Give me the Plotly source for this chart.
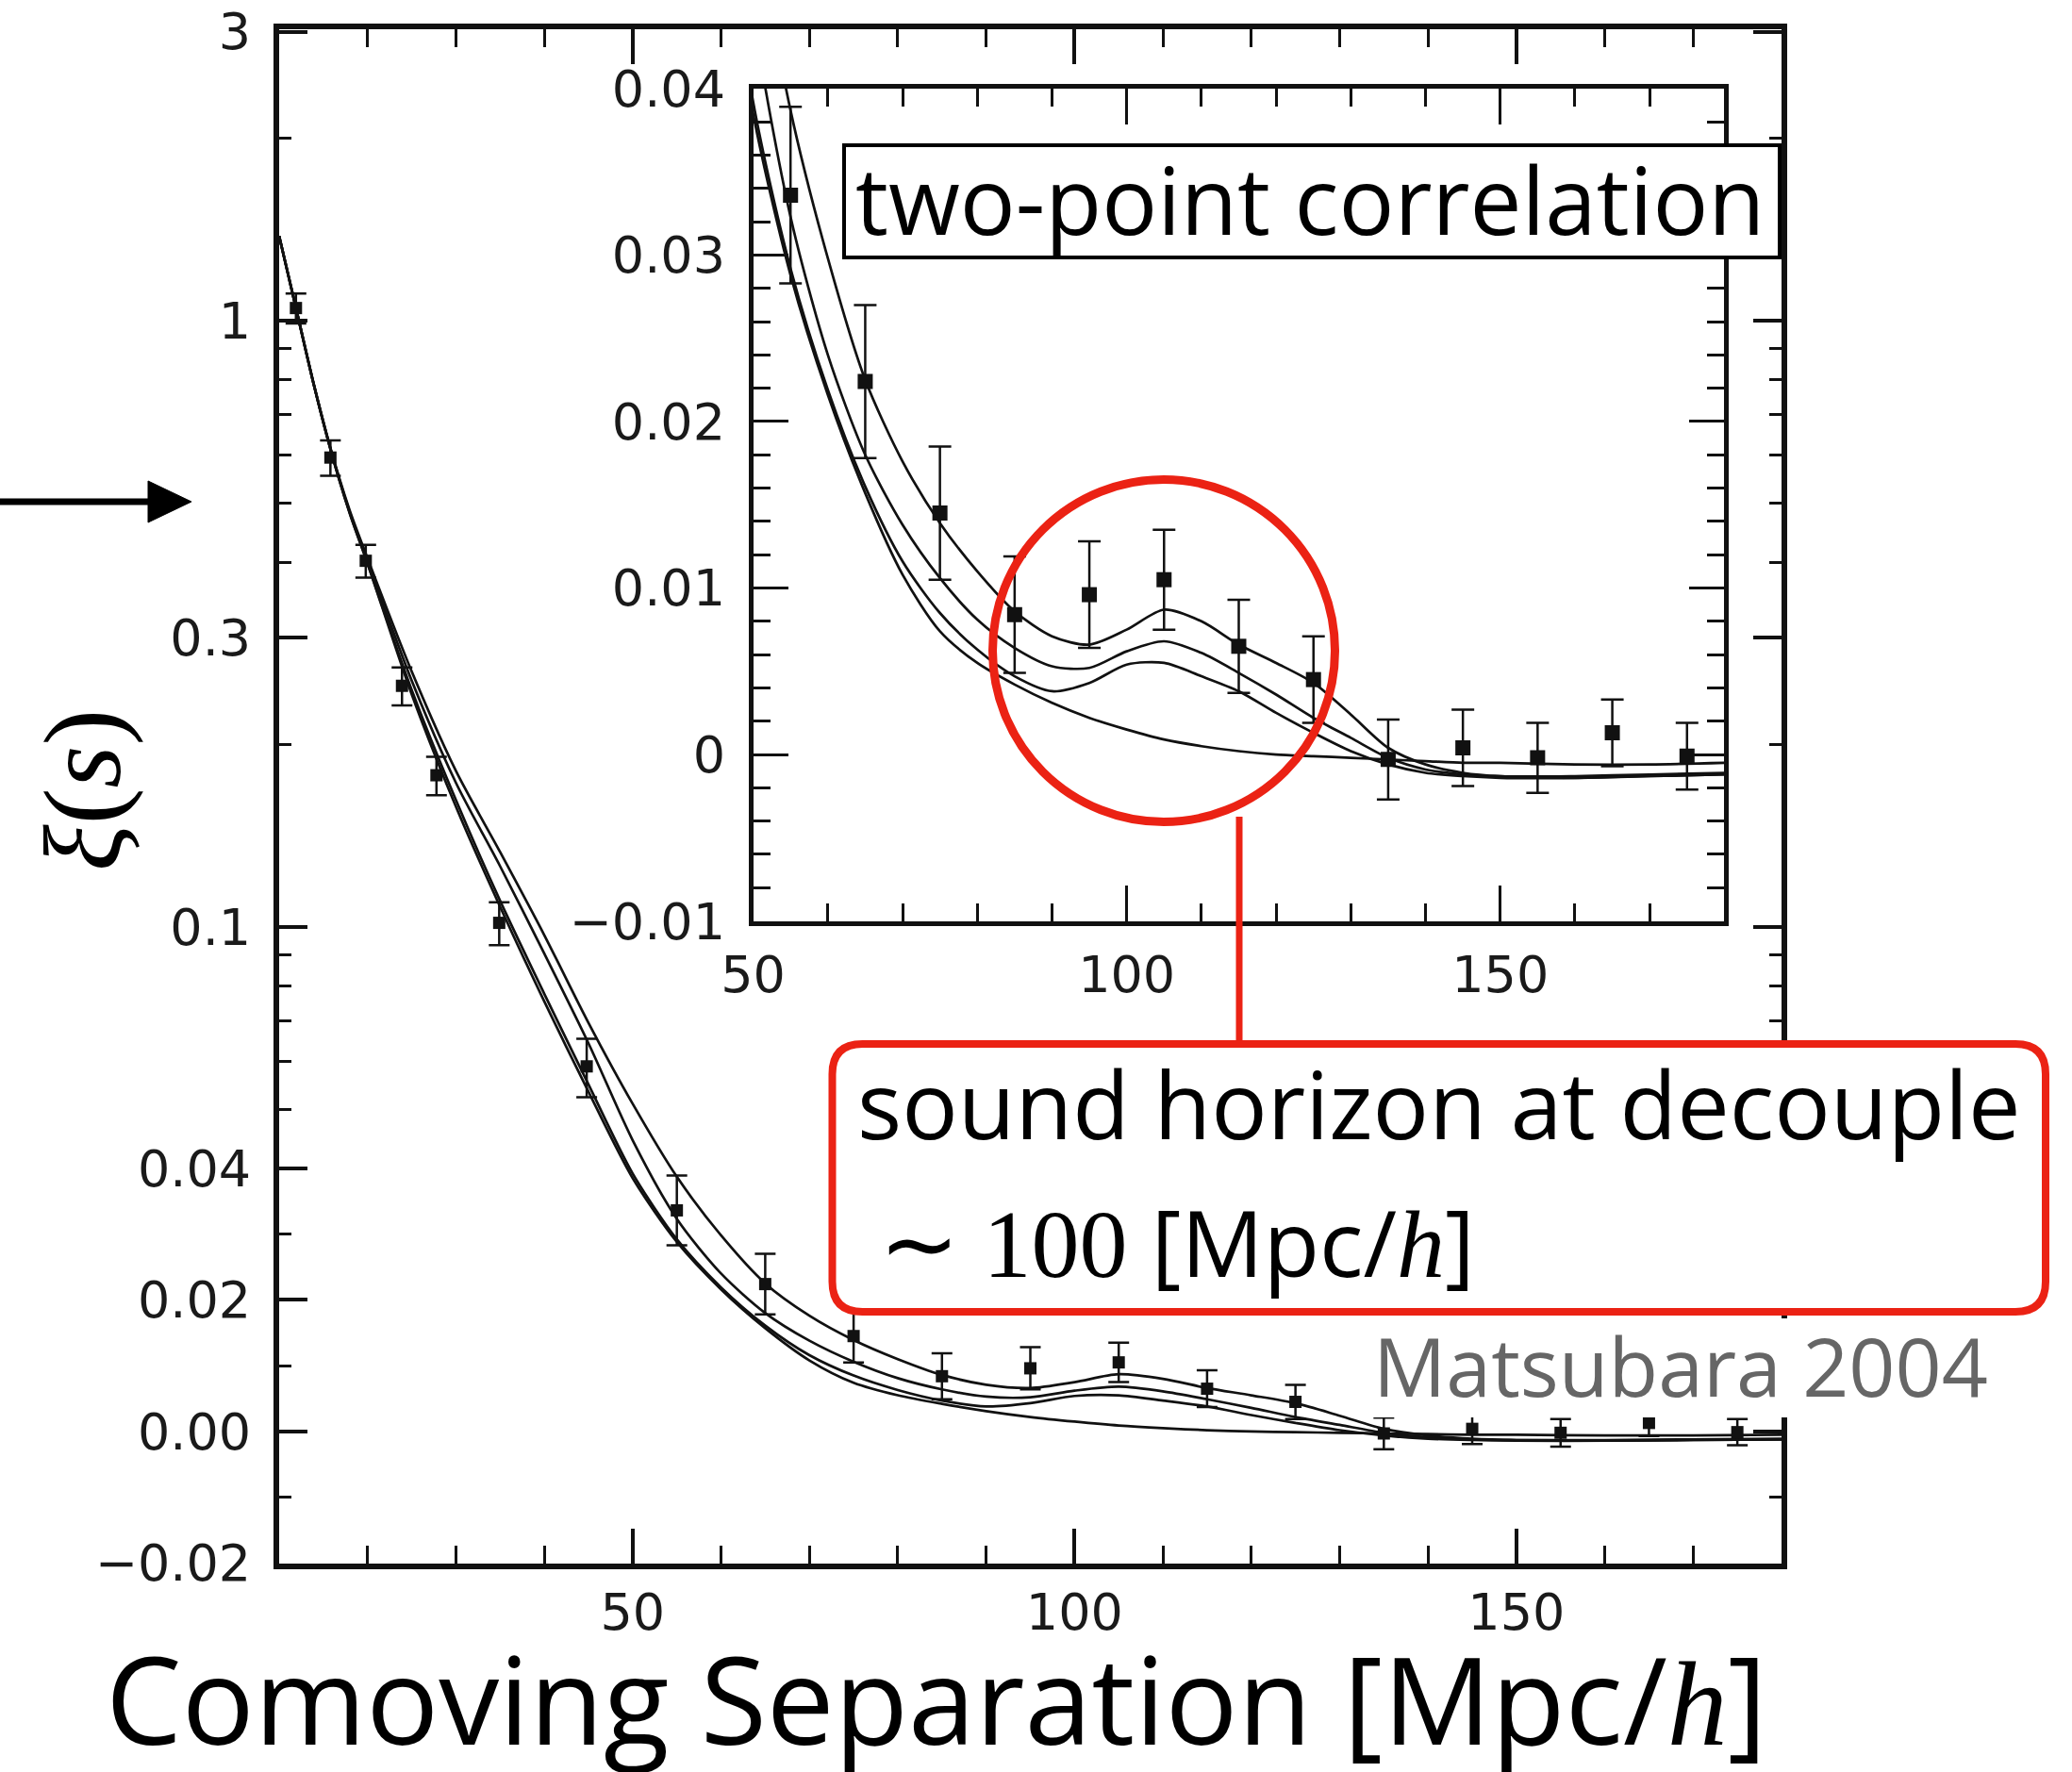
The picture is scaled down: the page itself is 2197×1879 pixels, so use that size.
import numpy as np
import plotly.graph_objects as go

W, H = 2197, 1879

# ---------------- data ----------------
s_data = [11.9, 15.8, 19.8, 23.9, 27.8, 34.9, 44.8, 55, 65, 75, 85, 95, 105,
          115, 125, 135, 145, 155, 165, 175]
xi_data = [1.05, 0.595, 0.402, 0.250, 0.178, 0.1016, 0.0589, 0.0336, 0.0224,
           0.0145, 0.0084, 0.0096, 0.0105, 0.0065, 0.0045, -0.0003, 0.0004,
           -0.0002, 0.0013, -0.0001]
xi_err = [0.06, 0.04, 0.025, 0.018, 0.013, 0.0083, 0.0065, 0.0053, 0.0046,
          0.0040, 0.0035, 0.0032, 0.0030, 0.0028, 0.0026, 0.0024, 0.0023,
          0.0021, 0.0020, 0.0020]

s_model = [10, 12, 14, 16, 18, 20, 25, 30, 35, 40, 45, 50, 55, 60, 65, 70, 75,
           80, 85, 90, 95, 100, 105, 110, 115, 120, 125, 130, 135, 140, 145,
           150, 160, 170, 180]
model_a = [1.38, 1.036, 0.778, 0.603, 0.486, 0.406, 0.264, 0.181, 0.133, 0.097,
           0.0695, 0.0511, 0.0387, 0.0298, 0.0225, 0.0176, 0.0139, 0.0110,
           0.0086, 0.0071, 0.0066, 0.0075, 0.0087, 0.0080, 0.0066, 0.0055,
           0.0043, 0.0024, 0.0004, -0.0006, -0.0011, -0.0013, -0.0013,
           -0.0012, -0.0011]
model_b = [1.38, 1.035, 0.777, 0.601, 0.483, 0.402, 0.255, 0.173, 0.126, 0.0904,
           0.0643, 0.0445, 0.0323, 0.0240, 0.0180, 0.0138, 0.0106, 0.0081,
           0.0064, 0.0053, 0.0052, 0.0062, 0.0068, 0.0061, 0.0049, 0.0036,
           0.0022, 0.0010, -0.0002, -0.0009, -0.0012, -0.0013, -0.0014,
           -0.0013, -0.0012]
model_c = [1.38, 1.035, 0.776, 0.600, 0.481, 0.398, 0.246, 0.162, 0.1105,
           0.0776, 0.0550, 0.0392, 0.0292, 0.0219, 0.0161, 0.0116, 0.0085,
           0.0063, 0.0047, 0.0038, 0.0043, 0.0054, 0.0055, 0.0047, 0.0038,
           0.0025, 0.0013, 0.0002, -0.0006, -0.0011, -0.0013, -0.0014,
           -0.0014, -0.0013, -0.0012]
model_d = [1.38, 1.035, 0.776, 0.600, 0.481, 0.398, 0.242, 0.158, 0.108,
           0.0754, 0.0535, 0.0385, 0.0288, 0.0216, 0.0157, 0.0108, 0.0074,
           0.0055, 0.0042, 0.0031, 0.0022, 0.0015, 0.0009, 0.0005, 0.0002,
           0.0000, -0.0001, -0.0002, -0.0003, -0.0004, -0.0005, -0.0005,
           -0.0006, -0.0006, -0.0005]

main_y_ticks = [3, 1, 0.3, 0.1, 0.04, 0.02, 0, -0.02]
main_y_labels = ["3", "1", "0.3", "0.1", "0.04", "0.02", "0.00", "\u22120.02"]
main_y_minor = [2, 0.9, 0.8, 0.7, 0.6, 0.5, 0.4, 0.2, 0.09, 0.08, 0.07, 0.06,
                0.05, 0.03, 0.01, -0.01]
main_x_ticks = [50, 100, 150]
main_x_minor = [20, 30, 40, 60, 70, 80, 90, 110, 120, 130, 140, 160, 170]
inset_y_ticks = [-0.01, 0, 0.01, 0.02, 0.03, 0.04]
inset_y_labels = ["\u22120.01", "0", "0.01", "0.02", "0.03", "0.04"]
inset_y_minor = [-0.008, -0.006, -0.004, -0.002, 0.002, 0.004, 0.006, 0.008,
                 0.012, 0.014, 0.016, 0.018, 0.022, 0.024, 0.026, 0.028,
                 0.032, 0.034, 0.036, 0.038]
inset_x_ticks = [50, 100, 150]
inset_x_minor = [60, 70, 80, 90, 110, 120, 130, 140, 160, 170]


# mixed linear / logarithmic vertical scale of the main panel
def T(y):
    return y if y <= 0.04 else 0.04 + 0.04 * np.log(y / 0.04)


def X(px):
    return px / W


def Y(py):
    return 1 - py / H


BLACK = "#111111"
RED = "#EB2214"
tickfont = dict(family="DejaVu Sans", size=54, color="#1a1a1a")

fig = go.Figure()

# ---------------- main panel ----------------
for m in [model_a, model_b, model_c, model_d]:
    fig.add_trace(go.Scatter(
        x=s_model, y=[T(v) for v in m], mode="lines",
        line=dict(color=BLACK, width=2.7, shape="spline", smoothing=0.8),
        xaxis="x", yaxis="y", hoverinfo="skip", showlegend=False))

ep = [T(v + e) - T(v) for v, e in zip(xi_data, xi_err)]
em = [T(v) - T(v - e) for v, e in zip(xi_data, xi_err)]
fig.add_trace(go.Scatter(
    x=s_data, y=[T(v) for v in xi_data], mode="markers",
    marker=dict(symbol="square", size=13, color=BLACK),
    error_y=dict(type="data", symmetric=False, array=ep, arrayminus=em,
                 color=BLACK, thickness=2.5, width=11),
    xaxis="x", yaxis="y", hoverinfo="skip", showlegend=False))

# ---------------- inset panel ----------------
for m in [model_a, model_b, model_c, model_d]:
    fig.add_trace(go.Scatter(
        x=s_model, y=m, mode="lines",
        line=dict(color=BLACK, width=2.7, shape="spline", smoothing=0.8),
        xaxis="x2", yaxis="y2", hoverinfo="skip", showlegend=False))

fig.add_trace(go.Scatter(
    x=s_data, y=xi_data, mode="markers",
    marker=dict(symbol="square", size=16, color=BLACK),
    error_y=dict(type="data", array=xi_err, color=BLACK, thickness=2.5,
                 width=12),
    xaxis="x2", yaxis="y2", hoverinfo="skip", showlegend=False))

common = dict(showgrid=False, zeroline=False, showline=True, automargin=False,
              linecolor=BLACK, mirror="allticks", ticks="inside",
              tickcolor=BLACK, tickfont=tickfont)

fig.update_layout(
    template="none",
    width=W, height=H, autosize=False,
    margin=dict(l=0, r=0, t=0, b=0, pad=0),
    paper_bgcolor="white", plot_bgcolor="white",
    xaxis=dict(domain=[X(296), X(1889)], range=[10, 180], anchor="y",
               tickmode="array", tickvals=main_x_ticks,
               ticktext=[str(v) for v in main_x_ticks],
               ticklen=37, tickwidth=3.5, linewidth=6, ticklabelstandoff=0,
               minor=dict(tickmode="array", tickvals=main_x_minor,
                          ticks="inside", ticklen=19, tickwidth=3,
                          tickcolor=BLACK),
               **common),
    yaxis=dict(domain=[Y(1657.5), Y(30.8)],
               range=[-0.02, T(3) + 0.0004], anchor="x",
               tickmode="array", tickvals=[T(v) for v in main_y_ticks],
               ticktext=main_y_labels,
               ticklen=30, tickwidth=3.5, linewidth=6, ticklabelstandoff=13,
               minor=dict(tickmode="array",
                          tickvals=[T(v) for v in main_y_minor],
                          ticks="inside", ticklen=13, tickwidth=3,
                          tickcolor=BLACK),
               **common),
    xaxis2=dict(domain=[X(798.6), X(1828.4)], range=[50, 180], anchor="y2",
                tickmode="array", tickvals=inset_x_ticks,
                ticktext=[str(v) for v in inset_x_ticks],
                ticklen=38, tickwidth=3, linewidth=4.5, ticklabelstandoff=6,
                minor=dict(tickmode="array", tickvals=inset_x_minor,
                           ticks="inside", ticklen=19, tickwidth=3,
                           tickcolor=BLACK),
                **common),
    yaxis2=dict(domain=[Y(976.6), Y(93.9)], range=[-0.01, 0.04], anchor="x2",
                tickmode="array", tickvals=inset_y_ticks,
                ticktext=inset_y_labels,
                ticklen=38, tickwidth=3, linewidth=4.5, ticklabelstandoff=14,
                minor=dict(tickmode="array", tickvals=inset_y_minor,
                           ticks="inside", ticklen=19, tickwidth=3,
                           tickcolor=BLACK),
                **common),
)


def rrect(x0, y0, x1, y1, r):
    return (f"M {X(x0 + r)},{Y(y0)} L {X(x1 - r)},{Y(y0)} "
            f"Q {X(x1)},{Y(y0)} {X(x1)},{Y(y0 + r)} L {X(x1)},{Y(y1 - r)} "
            f"Q {X(x1)},{Y(y1)} {X(x1 - r)},{Y(y1)} L {X(x0 + r)},{Y(y1)} "
            f"Q {X(x0)},{Y(y1)} {X(x0)},{Y(y1 - r)} L {X(x0)},{Y(y0 + r)} "
            f"Q {X(x0)},{Y(y0)} {X(x0 + r)},{Y(y0)} Z")


shapes = [
    # boxed label in the inset
    dict(type="rect", xref="paper", yref="paper", layer="above",
         x0=X(895), x1=X(1887), y0=Y(273), y1=Y(154),
         line=dict(color="black", width=4), fillcolor="white"),
    # red circle around the acoustic peak
    dict(type="circle", xref="paper", yref="paper", layer="above",
         x0=X(1052.5), x1=X(1415.5), y0=Y(871.5), y1=Y(508.5),
         line=dict(color=RED, width=9)),
    # connector
    dict(type="line", xref="paper", yref="paper", layer="above",
         x0=X(1314), x1=X(1314), y0=Y(866), y1=Y(1106),
         line=dict(color=RED, width=7)),
    # red rounded box
    dict(type="path", xref="paper", yref="paper", layer="above",
         path=rrect(882.5, 1107, 2169, 1391, 32),
         line=dict(color=RED, width=8), fillcolor="white"),
    # white background for the credit
    dict(type="rect", xref="paper", yref="paper", layer="above",
         x0=X(1452), x1=X(2135), y0=Y(1503), y1=Y(1398),
         line=dict(width=0), fillcolor="white"),
    # arrow on the left
    dict(type="line", xref="paper", yref="paper", layer="above",
         x0=X(0), x1=X(165), y0=Y(532), y1=Y(532),
         line=dict(color="black", width=7)),
    dict(type="path", xref="paper", yref="paper", layer="above",
         path=f"M {X(157)},{Y(510)} L {X(203)},{Y(532)} L {X(157)},{Y(554)} Z",
         line=dict(color="black", width=1), fillcolor="black"),
]
fig.update_layout(shapes=shapes)

SERIF = "Liberation Serif"
annotations = [
    dict(text="two-point correlation", x=X(905), y=Y(211), xanchor="left",
         yanchor="middle", font=dict(family="Open Sans", size=98,
                                     color="black")),
    dict(text="sound horizon at decouple", x=X(907), y=Y(1169),
         xanchor="left", yanchor="middle",
         font=dict(family="Open Sans", size=99, color="black")),
    dict(text=(f"<span style=\"font-family:{SERIF};font-size:102px\">"
               f"\u223c 100</span> [Mpc/<span style=\"font-family:{SERIF};"
               f"font-size:102px\"><i>h</i></span>]"),
         x=X(930), y=Y(1316), xanchor="left", yanchor="middle",
         font=dict(family="Open Sans", size=97, color="black")),
    dict(text="Matsubara 2004", x=X(1454), y=Y(1447), xanchor="left",
         yanchor="middle", font=dict(family="Open Sans", size=86,
                                     color="#666666")),
    dict(text=(f"Comoving Separation [Mpc/<span style=\"font-family:{SERIF}\">"
               f"<i>h</i></span>]"),
         x=X(993), y=Y(1800), xanchor="center", yanchor="middle",
         font=dict(family="Open Sans", size=128, color="black")),
    dict(text=(f"<span style=\"font-family:{SERIF}\"><i>\u03be</i>(<i>s</i>)"
               f"</span>"),
         x=X(88), y=Y(838), xanchor="center",
         yanchor="middle", textangle=-90,
         font=dict(family=SERIF, size=116, color="black")),
]
for a in annotations:
    a.update(xref="paper", yref="paper", showarrow=False)
fig.update_layout(annotations=annotations)

fig.write_html("out.html")
